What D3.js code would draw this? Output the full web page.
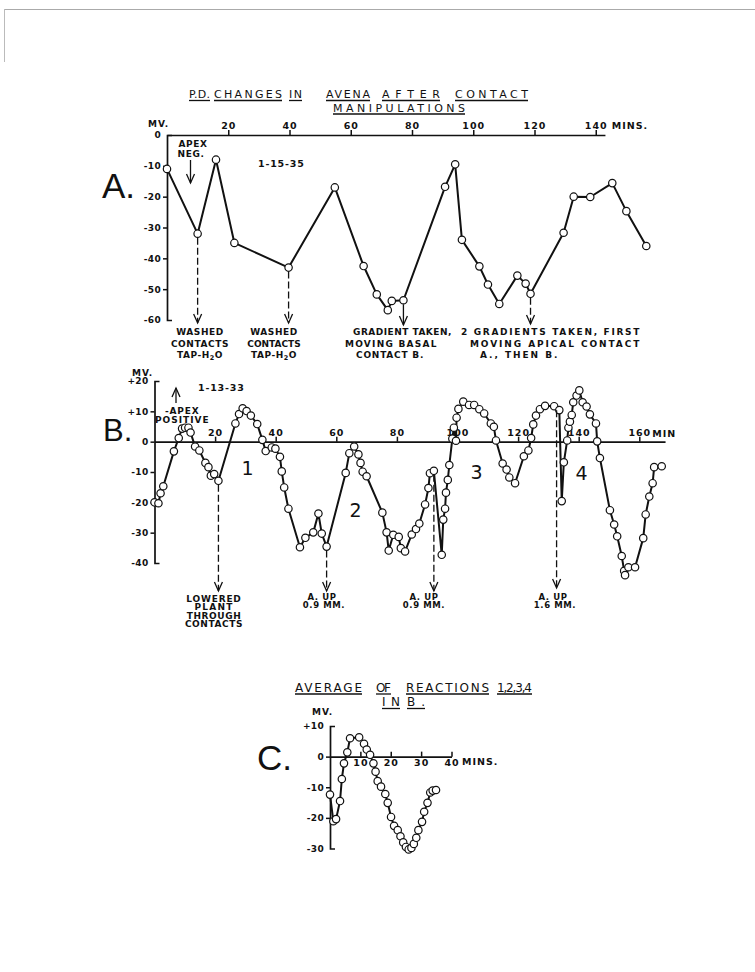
<!DOCTYPE html>
<html>
<head>
<meta charset="utf-8">
<script src="https://cdn.jsdelivr.net/npm/d3@7"></script>
<style>
  html, body { margin: 0; padding: 0; background: #fff; }
  svg text { font-family: "DejaVu Sans", sans-serif; fill: #111; }
</style>
</head>
<body>
<svg id="fig" width="755" height="972"></svg>
<script>
// ---------- Record A (1-15-35): potential difference, mV, against minutes ----------
const minutesA = [0, 10, 16, 22, 39.7, 54.8, 64.2, 68.5, 72.1, 73.4, 77.2, 90.8, 94.1, 96.3,
  102, 104.8, 108.5, 114.4, 117.1, 118.7, 129.5, 132.8, 138.2, 145.4, 150, 156.5];
const mvA = [-11, -32, -8, -35, -43, -17, -42.5, -51.7, -56.8, -53.8, -53.6, -16.8, -9.5, -34,
  -42.6, -48.5, -54.8, -45.6, -48.2, -51.5, -31.7, -20, -20.1, -15.6, -24.7, -36];

// ---------- Record B (1-13-33) ----------
const minutesB = [0, 1.3, 2.0, 2.9, 6.4, 8.0, 9.1, 10.1, 11.2, 11.9, 13.4, 14.8, 16.8, 17.8, 18.6,
  19.7, 21.1, 26.7, 27.9, 29.1, 30.4, 31.8, 33.9, 35.6, 36.7, 38.7, 39.9, 41.4, 42, 42.8, 44.2,
  48, 49.8, 52.4, 54.1, 55.2, 56.8, 63.1, 64.3, 65.9, 67.3, 68, 68.7, 70, 75.2, 76.6, 77.3, 78.8,
  80.6, 81.3, 82.7, 84.9, 86.3, 87.4, 89.3, 90.4, 90.9, 92.2, 94.8, 95.3, 95.9, 96.2, 96.8, 97.3,
  98.3, 98.8, 99.5, 99.7, 100.3, 101.9, 103.8, 105.5, 107.2, 108.8, 111, 112, 112.7, 114.9, 116.2,
  117.1, 119, 121.9, 123.4, 124.3, 125, 125.9, 127.2, 128.9, 131.9, 133.6, 134.4, 135.1, 136.2,
  136.6, 137.1, 137.7, 138.2, 139.3, 140.2, 141.3, 142.6, 143.7, 145.7, 146.1, 147, 150.3, 151.7,
  152.7, 154.2, 155, 155.3, 156.4, 158.6, 161.3, 162.1, 163.3, 164.4, 164.9, 167.4];
const mvB = [-20, -20.3, -17, -14.7, -3.2, 1.2, 4.3, 4.6, 4.6, 3, -1.6, -2.9, -7, -8.4, -11.2,
  -10.7, -12.9, 6, 9.1, 11, 10.1, 8.6, 5.8, 0.6, -3.1, -1.9, -2.3, -5, -9.8, -15.1, -22.1,
  -34.8, -31.7, -29.9, -23.7, -30.3, -34.6, -10.3, -3.8, -1.6, -4.2, -7, -9.9, -11.4, -23.4, -29.9, -35.9, -30.7,
  -31.4, -35.1, -36.2, -30.6, -28.8, -27, -20.7, -15.3, -10.4, -9.6, -37.3, -25.7, -22.1, -16.8, -12.6, -7.7,
  1, 4.6, 0.3, 7.9, 10.8, 13.2, 12.1, 12.1, 10.7, 9.3, 6, 4.9, 0.4, -7.2, -9.2,
  -11.8, -13.7, -4.8, -2.9, 1.2, 5.7, 8.6, 10.7, 11.8, 11.7, 10.4, -19.6, -6.8, 0.4,
  4.6, 6.6, 8.8, 13, 15.2, 16.9, 13, 11.6, 9, 6, 0.1, -5.4, -22.6, -27.3,
  -31.2, -37.7, -42.6, -44, -41.4, -41.4, -31.8, -24, -18.1, -13.7, -8.4, -8.1];

// ---------- C: average of reactions 1-4 in B ----------
const minutesC = [0, 1.1, 2, 3.3, 3.9, 4.6, 5.7, 6.6, 9.6, 11.2, 12.1, 13.2, 14.3, 15, 15.7, 16.8,
  18.2, 19, 20.1, 21.1, 22.3, 23.2, 24.1, 25, 25.9, 26.8, 27.6, 28.4, 29.1, 30.3, 31, 32.1, 33, 33.8, 34.9];
const mvC = [-12.4, -21.1, -20.4, -14.5, -7.3, -2.2, 1.4, 6, 6.3, 4.2, 2.3, 0.6, -2.2, -4.9, -8, -9.8,
  -12.2, -15.1, -19.7, -22.6, -24, -26, -28, -29.5, -30.3, -29.8, -28.5, -26.5, -24, -21.3, -18, -15.1, -11.7, -11.1, -10.9];

// tick values and their printed labels
const ticksAx = [20, 40, 60, 80, 100, 120, 140];
const ticksAy = [0, -10, -20, -30, -40, -50, -60];
const labelsAy = ["0", "-10", "-20", "-30", "-40", "-50", "-60"];
const ticksBx = [20, 40, 60, 80, 100, 120, 140, 160];
const ticksBy = [20, 10, 0, -10, -20, -30, -40];
const labelsBy = ["+20", "+10", "0", "-10", "-20", "-30", "-40"];
const ticksCx = [10, 20, 30, 40];
const ticksCy = [10, 0, -10, -20, -30];
const labelsCy = ["+10", "0", "-10", "-20", "-30"];

const INK = "#111";
const svg = d3.select("#fig");

// faint frame from the mounting sheet
svg.append("line").attr("x1", 4).attr("x2", 755).attr("y1", 9.5).attr("y2", 9.5)
  .attr("stroke", "#aaa").attr("stroke-width", 1);
svg.append("line").attr("x1", 4.5).attr("x2", 4.5).attr("y1", 9).attr("y2", 62)
  .attr("stroke", "#bbb").attr("stroke-width", 1);

function zip(ts, vs) { return ts.map((t, i) => ({ t, v: vs[i] })); }

function label(x, y, str, opt = {}) {
  const t = svg.append("text").attr("x", x).attr("y", y)
    .attr("font-size", opt.size || 9)
    .attr("font-weight", opt.weight || "bold")
    .attr("letter-spacing", opt.ls != null ? opt.ls : 0.6)
    .attr("text-anchor", opt.anchor || "start")
    .text(str);
  if (opt.family) t.style("font-family", opt.family);
  if (opt.len) t.attr("textLength", opt.len).attr("lengthAdjust", "spacing");
  return t;
}

// "TAP-H2O" with a subscript 2
function tapWater(x, y) {
  const t = svg.append("text").attr("x", x).attr("y", y).attr("font-size", 9)
    .attr("font-weight", "bold").attr("letter-spacing", 0.5).attr("text-anchor", "middle");
  t.append("tspan").text("TAP-H");
  t.append("tspan").attr("font-size", 6.5).attr("dy", 2).text("2");
  t.append("tspan").attr("dy", -2).text("O");
}

// a title word spaced out to a set width, with its own underline
function underlined(x, y, str, width, size) {
  label(x, y, str, { size: size, weight: "normal", ls: 0, len: width });
  svg.append("line").attr("x1", x).attr("x2", x + width)
    .attr("y1", y + 2.5).attr("y2", y + 2.5).attr("stroke", INK).attr("stroke-width", 1.3);
}

function arrowDown(x, y1, y2, dashed) {
  svg.append("line").attr("x1", x).attr("x2", x).attr("y1", y1).attr("y2", y2)
    .attr("stroke", INK).attr("stroke-width", 1.3)
    .attr("stroke-dasharray", dashed ? "7,3" : null);
  svg.append("path").attr("d", `M${x - 4},${y2 - 9}L${x},${y2}L${x + 4},${y2 - 9}`)
    .attr("fill", "none").attr("stroke", INK).attr("stroke-width", 1.3);
}
function arrowUp(x, y1, y2) {
  svg.append("line").attr("x1", x).attr("x2", x).attr("y1", y1).attr("y2", y2)
    .attr("stroke", INK).attr("stroke-width", 1.3);
  svg.append("path").attr("d", `M${x - 4},${y2 + 9}L${x},${y2}L${x + 4},${y2 + 9}`)
    .attr("fill", "none").attr("stroke", INK).attr("stroke-width", 1.3);
}

function styleAxis(g, size, ls) {
  g.attr("font-family", null).attr("font-size", null);
  g.select(".domain").attr("stroke", INK).attr("stroke-width", 1.7);
  g.selectAll(".tick line").attr("stroke", INK).attr("stroke-width", 1.5);
  g.selectAll(".tick text").attr("font-size", size).attr("font-weight", "bold")
    .attr("letter-spacing", ls).attr("fill", INK);
}

function yAxis(scale, x, values, labels) {
  const g = svg.append("g").attr("transform", `translate(${x},0)`)
    .call(d3.axisLeft(scale).tickValues(values).tickSizeInner(4).tickSizeOuter(-5)
      .tickPadding(2).tickFormat((d, i) => labels[i]));
  // end ticks are carried by the domain path and turn inward
  g.selectAll(".tick line").filter(d => d === values[0] || d === values[values.length - 1]).remove();
  styleAxis(g, 9, 0.3);
  return g;
}

function series(data, x, y) {
  svg.append("path").datum(data)
    .attr("d", d3.line().x(d => x(d.t)).y(d => y(d.v)))
    .attr("fill", "none").attr("stroke", INK).attr("stroke-width", 2).attr("stroke-linejoin", "round");
  svg.append("g").selectAll("circle").data(data).join("circle")
    .attr("cx", d => x(d.t)).attr("cy", d => y(d.v)).attr("r", 3.7)
    .attr("fill", "#fff").attr("stroke", INK).attr("stroke-width", 1.2);
}

// ================= A =================
const xA = d3.scaleLinear().domain([0, 143]).range([167, 167 + 143 * 3.0625]);
const yA = d3.scaleLinear().domain([0, -60]).range([135, 320]);

underlined(189, 98, "P.D.", 21, 11);
underlined(214, 98, "CHANGES", 68, 11);
underlined(289, 98, "IN", 13, 11);
underlined(326, 98, "AVENA", 44, 11);
underlined(382, 98, "AFTER", 58, 11);
underlined(455, 98, "CONTACT", 73, 11);
underlined(333, 111.5, "MANIPULATIONS", 132, 11);

const axAx = svg.append("g").attr("transform", `translate(0,${yA(0)})`)
  .call(d3.axisTop(xA).tickValues(ticksAx).tickSizeInner(5).tickSizeOuter(0).tickPadding(1));
styleAxis(axAx, 9.5, 1);
yAxis(yA, xA(0), ticksAy, labelsAy);
label(xA(140) + 16, 129, "MINS.", { size: 9.5, ls: 1 });
label(148, 127, "MV.", { size: 9, ls: 1 });
label(102, 198, "A.", { size: 35, weight: "normal", ls: 0, family: "Liberation Sans" });
label(193, 147, "APEX", { size: 9, anchor: "middle" });
label(191, 157, "NEG.", { size: 9, anchor: "middle" });
arrowDown(190.5, 160, 183, false);
label(258, 167, "1-15-35", { size: 9.5, ls: 0.8 });

const dataA = zip(minutesA, mvA);
series(dataA, xA, yA);

// events marked on record A
arrowDown(xA(minutesA[1]), yA(mvA[1]) + 4, 323, true);
arrowDown(xA(minutesA[4]), yA(mvA[4]) + 4, 323, true);
arrowDown(xA(minutesA[10]), yA(mvA[10]) + 4, 325, false);
arrowDown(xA(minutesA[19]), yA(mvA[19]) + 4, 324, true);

label(200, 335, "WASHED", { anchor: "middle" });
label(200, 346.5, "CONTACTS", { anchor: "middle" });
tapWater(200, 357.5);
label(274, 335, "WASHED", { anchor: "middle" });
label(274, 346.5, "CONTACTS", { anchor: "middle", ls: 0 });
tapWater(274, 357.5);
label(353, 335, "GRADIENT  TAKEN,", { len: 99 });
label(345, 346.5, "MOVING  BASAL", { len: 92 });
label(356, 357.5, "CONTACT  B.", { len: 68 });
label(461, 335, "2  GRADIENTS  TAKEN,  FIRST", { len: 179 });
label(470, 346.5, "MOVING  APICAL  CONTACT", { len: 170 });
label(480, 357.5, "A., THEN  B.", { len: 78 });

// ================= B =================
const xB = d3.scaleLinear().domain([0, 168.5]).range([154.5, 154.5 + 168.5 * 3.03]);
const yB = d3.scaleLinear().domain([20, -40]).range([381, 563]);

const axBx = svg.append("g").attr("transform", `translate(0,${yB(0)})`)
  .call(d3.axisTop(xB).tickValues(ticksBx).tickSizeInner(5).tickSizeOuter(0).tickPadding(1));
styleAxis(axBx, 9.5, 1);
yAxis(yB, xB(0), ticksBy, labelsBy);
label(xB(160) + 13, 437, "MIN", { size: 9.5, ls: 1 });
label(132, 376, "MV.", { size: 9, ls: 1 });
label(103, 441, "B.", { size: 31, weight: "normal", ls: 0, family: "Liberation Sans" });
label(198, 391, "1-13-33", { size: 9.5, ls: 0.8 });
arrowUp(176, 403, 388);
label(165, 414, "-APEX", { size: 9, ls: 0.8 });
label(155, 423, "POSITIVE", { size: 9, ls: 1 });

const dataB = zip(minutesB, mvB);
series(dataB, xB, yB);

// reaction numbers
label(247.5, 475, "1", { size: 19, weight: "normal", anchor: "middle", ls: 0 });
label(355.5, 517, "2", { size: 19, weight: "normal", anchor: "middle", ls: 0 });
label(476.5, 479, "3", { size: 19, weight: "normal", anchor: "middle", ls: 0 });
label(581.5, 480, "4", { size: 19, weight: "normal", anchor: "middle", ls: 0 });

// events marked on record B
const evB = [16, 36, 57];
evB.forEach(i => arrowDown(xB(minutesB[i]), yB(mvB[i]) + 4, 591, true));
arrowDown(xB(132.7), yB(11.7) + 4, 588, true);

label(214, 601.5, "LOWERED", { anchor: "middle", ls: 0.8 });
label(214, 610, "PLANT", { anchor: "middle", ls: 1.2 });
label(214, 618.5, "THROUGH", { anchor: "middle", ls: 0.6 });
label(214, 627, "CONTACTS", { anchor: "middle", ls: 0.6 });
label(322, 599.5, "A.  UP", { anchor: "middle", size: 8.5 });
label(324, 608, "0.9  MM.", { anchor: "middle", size: 8.5 });
label(424, 599.5, "A.  UP", { anchor: "middle", size: 8.5 });
label(424, 608, "0.9  MM.", { anchor: "middle", size: 8.5 });
label(553, 599.5, "A.  UP", { anchor: "middle", size: 8.5 });
label(555, 608, "1.6  MM.", { anchor: "middle", size: 8.5 });

// ================= C =================
const xC = d3.scaleLinear().domain([0, 40]).range([330, 451.5]);
const yC = d3.scaleLinear().domain([10, -30]).range([726, 848.5]);

underlined(295, 691.5, "AVERAGE", 67, 12);
underlined(376, 691.5, "OF", 15, 12);
underlined(406, 691.5, "REACTIONS", 83, 12);
underlined(497, 691.5, "1,2,3,4", 35, 12);
underlined(382, 706, "IN", 18, 12);
underlined(407, 706, "B.", 18, 12);

const axCx = svg.append("g").attr("transform", `translate(0,${yC(0)})`)
  .call(d3.axisBottom(xC).tickValues(ticksCx).tickSizeInner(-5).tickSizeOuter(0).tickPadding(3));
styleAxis(axCx, 9.5, 1);
yAxis(yC, xC(0), ticksCy, labelsCy);
label(462, 765, "MINS.", { size: 9.5, ls: 1 });
label(312, 715, "MV.", { size: 9, ls: 1 });
label(257, 770, "C.", { size: 35, weight: "normal", ls: 0, family: "Liberation Sans" });

const dataC = zip(minutesC, mvC);
series(dataC, xC, yC);
</script>
</body>
</html>
